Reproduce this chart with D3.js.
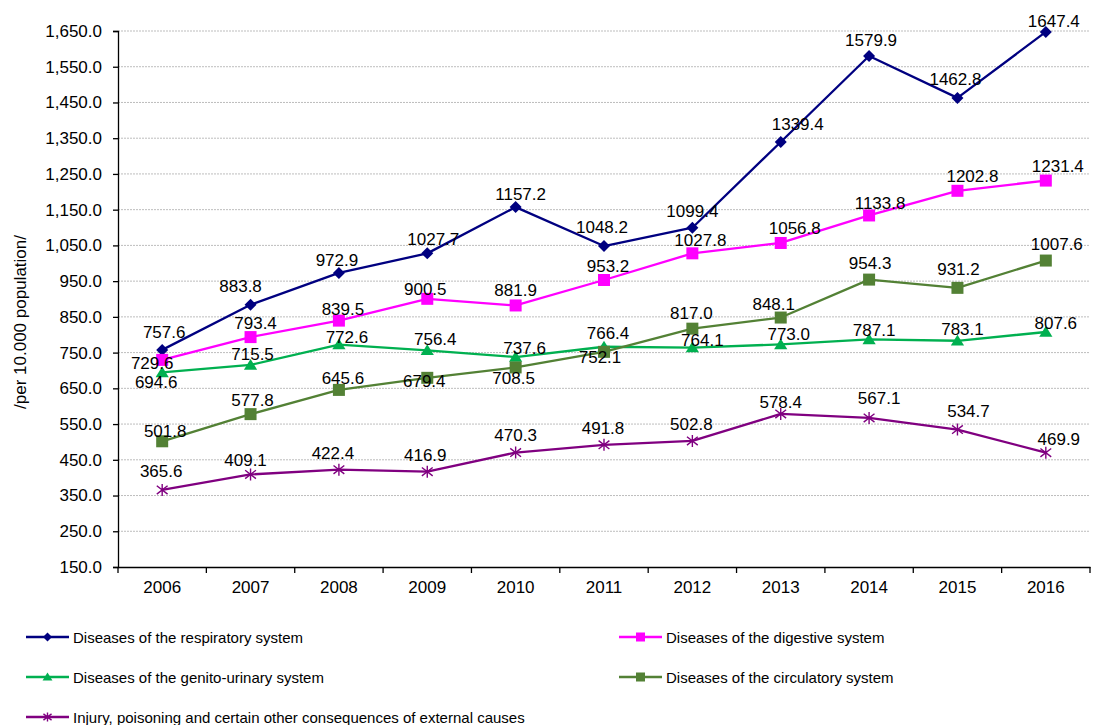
<!DOCTYPE html>
<html>
<head>
<meta charset="utf-8">
<script src="https://cdn.jsdelivr.net/npm/d3@7"></script>
<style>
  html, body { margin: 0; padding: 0; background: #fff; }
  svg { display: block; font-family: "Liberation Sans", Arial, sans-serif; }
</style>
</head>
<body>
<svg id="chart" width="1098" height="725"></svg>
<script>
// ---- data ----
const years = ["2006","2007","2008","2009","2010","2011","2012","2013","2014","2015","2016"];
const respiratory = [757.6, 883.8, 972.9, 1027.7, 1157.2, 1048.2, 1099.4, 1339.4, 1579.9, 1462.8, 1647.4];
const digestive   = [729.6, 793.4, 839.5, 900.5, 881.9, 953.2, 1027.8, 1056.8, 1133.8, 1202.8, 1231.4];
const genito      = [694.6, 715.5, 772.6, 756.4, 737.6, 766.4, 764.1, 773.0, 787.1, 783.1, 807.6];
const circulatory = [501.8, 577.8, 645.6, 679.4, 708.5, 752.1, 817.0, 848.1, 954.3, 931.2, 1007.6];
const injury      = [365.6, 409.1, 422.4, 416.9, 470.3, 491.8, 502.8, 578.4, 567.1, 534.7, 469.9];
const yTicks = [150, 250, 350, 450, 550, 650, 750, 850, 950, 1050, 1150, 1250, 1350, 1450, 1550, 1650];
const seriesNames = [
  "Diseases of the respiratory system",
  "Diseases of the digestive system",
  "Diseases of the genito-urinary system",
  "Diseases of the circulatory system",
  "Injury, poisoning and certain other consequences of external causes"
];
const yTitle = "/per 10.000 population/";

// ---- label placement offsets (layout, px) ----
const respDx = [2, -10, -2, 6, 5, -2, 0, 17, 2, -2, 8];
const respDy = [-17, -18, -12, -14, -13, -19, -16, -17, -16, -18, -10];
const digDx  = [-10, 5, 4, -2, 0, 4, 8, 14, 11, 15, 12];
const digDy  = [3.5, -14, -11, -9, -15, -13, -13, -14, -12, -14, -14];
const genDx  = [-6, 2, 8, 8, 9, 4, 10, 8, 5, 5, 10];
const genDy  = [10, -10, -7, -11, -9, -13, -7, -10, -9, -11, -9];
const cirDx  = [3, 2, 4, -3, -2, -4, -1, -7, 1, 1, 11];
const cirDy  = [-10, -14, -11, 4, 11, 6, -15, -13, -16, -18, -16];
const injDx  = [-1, -5, -6, -2, 0, -1, -1, 0, 10, 11, 13];
const injDy  = [-18, -14, -16, -16, -17, -16, -16, -11, -19, -18, -13];

const colors = ["#000080", "#FF00FF", "#00B050", "#538135", "#800080"];
const markers = ["diamond", "square", "triangle", "square", "star"];

const series = [
  {name: seriesNames[0], values: respiratory, dx: respDx, dy: respDy, color: colors[0], marker: markers[0]},
  {name: seriesNames[1], values: digestive,   dx: digDx,  dy: digDy,  color: colors[1], marker: markers[1]},
  {name: seriesNames[2], values: genito,      dx: genDx,  dy: genDy,  color: colors[2], marker: markers[2]},
  {name: seriesNames[3], values: circulatory, dx: cirDx,  dy: cirDy,  color: colors[3], marker: markers[3]},
  {name: seriesNames[4], values: injury,      dx: injDx,  dy: injDy,  color: colors[4], marker: markers[4]}
];

// ---- layout ----
const svg = d3.select("#chart");
const plotL = 118, plotR = 1090, plotT = 31, plotB = 567;

const x = d3.scaleBand().domain(years).range([plotL, plotR]).padding(0);
const y = d3.scaleLinear().domain([150, 1650]).range([plotB, plotT]);
const cx = d => x(d) + x.bandwidth() / 2;

// gridlines
svg.append("g").selectAll("line").data(yTicks.slice(1)).join("line")
  .attr("x1", plotL).attr("x2", plotR)
  .attr("y1", d => y(d)).attr("y2", d => y(d))
  .attr("stroke", "#bdbdbd").attr("stroke-width", 1).attr("stroke-dasharray", "2,1");

// y axis
const yAxis = svg.append("g").attr("transform", `translate(${plotL},0)`)
  .call(d3.axisLeft(y).tickValues(yTicks).tickSize(5).tickPadding(11)
    .tickFormat(d3.format(",.1f")));
yAxis.select(".domain").attr("stroke", "#000").attr("stroke-width", 1.3);
yAxis.selectAll(".tick line").attr("stroke", "#000").attr("stroke-width", 1.3);
yAxis.selectAll("text").attr("font-size", 17).attr("fill", "#000")
  .attr("font-family", "Liberation Sans, Arial, sans-serif");

// x axis
const xAxis = svg.append("g").attr("transform", `translate(0,${plotB})`)
  .call(d3.axisBottom(x).tickSize(0).tickPadding(14));
xAxis.select(".domain").attr("stroke", "#000").attr("stroke-width", 1.3);
xAxis.selectAll("text").attr("font-size", 17).attr("fill", "#000")
  .attr("font-family", "Liberation Sans, Arial, sans-serif");
// x ticks at category boundaries
const bounds = years.map(d => x(d)).concat([plotR]);
svg.append("g").selectAll("line").data(bounds).join("line")
  .attr("x1", d => d).attr("x2", d => d)
  .attr("y1", plotB).attr("y2", plotB + 6)
  .attr("stroke", "#000").attr("stroke-width", 1.3);

// y title
svg.append("text")
  .attr("transform", "translate(26,322) rotate(-90)")
  .attr("text-anchor", "middle")
  .attr("font-size", 17).attr("fill", "#000")
  .text(yTitle);

// marker drawing
function drawMarker(sel, type, color, s) {
  if (type === "diamond") {
    sel.append("path").attr("d", `M0,${-s}L${s},0L0,${s}L${-s},0Z`).attr("fill", color);
  } else if (type === "square") {
    sel.append("rect").attr("x", -s).attr("y", -s).attr("width", 2 * s).attr("height", 2 * s).attr("fill", color);
  } else if (type === "triangle") {
    sel.append("path").attr("d", `M0,${-s}L${s * 1.1},${s * 0.8}L${-s * 1.1},${s * 0.8}Z`).attr("fill", color);
  } else if (type === "star") {
    sel.append("path")
      .attr("d", `M0,${-s}V${s}M${-s * 0.9},${-s * 0.7}L${s * 0.9},${s * 0.7}M${-s * 0.9},${s * 0.7}L${s * 0.9},${-s * 0.7}`)
      .attr("stroke", color).attr("stroke-width", 1.4).attr("fill", "none");
  }
}
const markerSize = {diamond: 6, square: 6, triangle: 6, star: 6};

const line = d3.line().x((d, i) => cx(years[i])).y(d => y(d));

series.forEach(s => {
  const g = svg.append("g");
  g.append("path").datum(s.values)
    .attr("d", line).attr("fill", "none")
    .attr("stroke", s.color).attr("stroke-width", 2.3).attr("stroke-linejoin", "round");
  s.values.forEach((v, i) => {
    const m = g.append("g").attr("transform", `translate(${cx(years[i])},${y(v)})`);
    drawMarker(m, s.marker, s.color, markerSize[s.marker]);
  });
});

// data labels (on top)
series.forEach(s => {
  svg.append("g").selectAll("text").data(s.values).join("text")
    .attr("x", (d, i) => cx(years[i]) + s.dx[i])
    .attr("y", (d, i) => y(d) + s.dy[i])
    .attr("text-anchor", "middle")
    .attr("dominant-baseline", "central")
    .attr("font-size", 17).attr("fill", "#000")
    .text(d => d.toFixed(1));
});

// legend
const legendPos = [
  {x: 26, y: 637}, {x: 619, y: 637},
  {x: 26, y: 677}, {x: 619, y: 677},
  {x: 26, y: 717}
];
series.forEach((s, i) => {
  const p = legendPos[i];
  const g = svg.append("g").attr("transform", `translate(${p.x},${p.y})`);
  g.append("line").attr("x1", 0).attr("x2", 43).attr("y1", 0).attr("y2", 0)
    .attr("stroke", s.color).attr("stroke-width", 2.3);
  const m = g.append("g").attr("transform", "translate(21.5,0)");
  drawMarker(m, s.marker, s.color, 4.5);
  g.append("text").attr("x", 47).attr("y", 0)
    .attr("dominant-baseline", "central")
    .attr("font-size", 15).attr("fill", "#000")
    .text(s.name);
});
</script>
</body>
</html>
